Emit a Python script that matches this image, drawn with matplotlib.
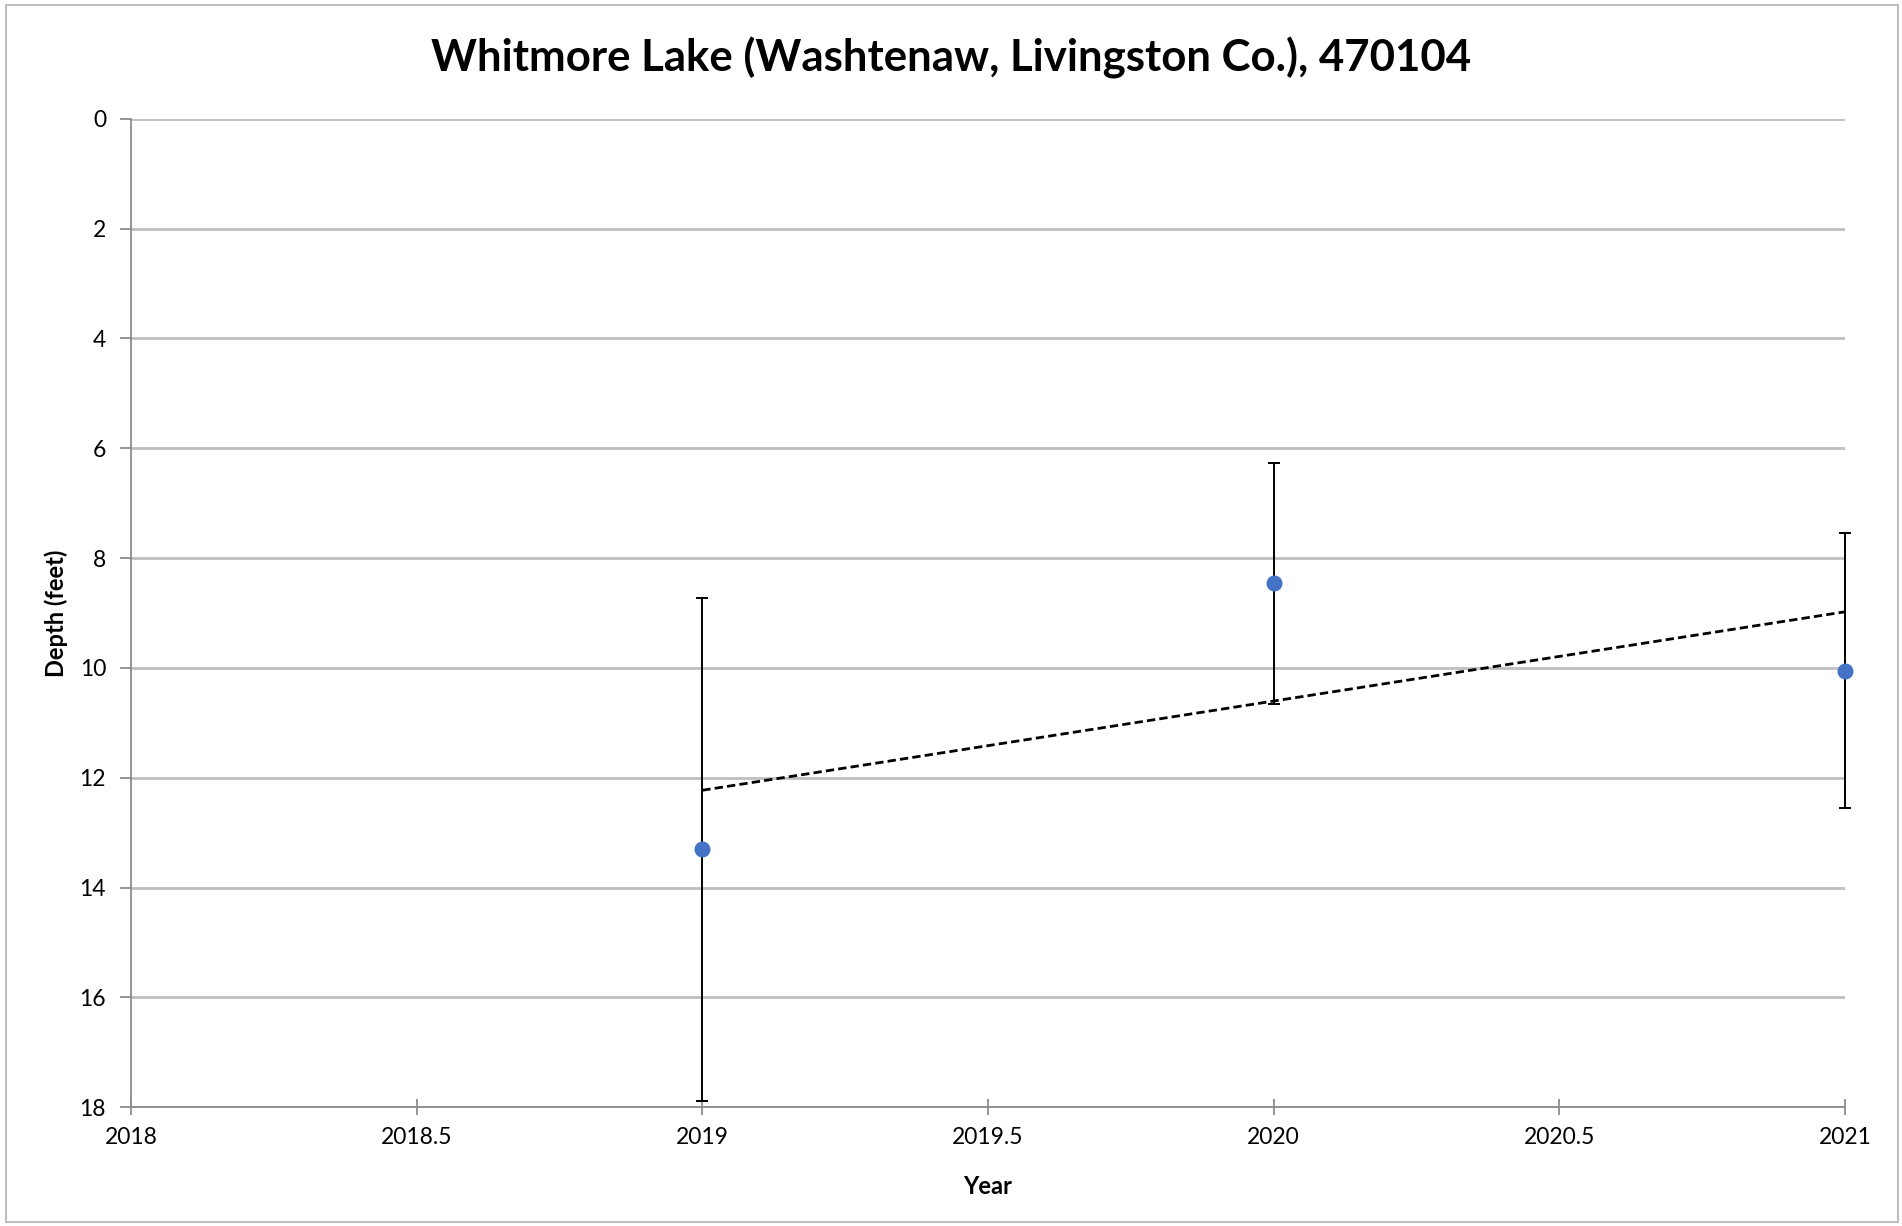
import matplotlib
matplotlib.use("Agg")
import matplotlib.pyplot as plt
import numpy as np
from matplotlib.patches import Rectangle

plt.rcParams['font.family'] = ['Lato', 'DejaVu Sans']

# data
years = [2019, 2020, 2021]
depths = [13.30, 8.46, 10.05]
errors = [4.58, 2.19, 2.50]

x_ticks = [2018, 2018.5, 2019, 2019.5, 2020, 2020.5, 2021]
x_tick_labels = ['2018', '2018.5', '2019', '2019.5', '2020', '2020.5', '2021']
y_ticks = [0, 2, 4, 6, 8, 10, 12, 14, 16, 18]

fig = plt.figure(figsize=(19.02, 12.26), dpi=100)
ax = fig.add_axes([0.0689, 0.0969, 0.9011, 0.8062])

# linear trend of the points
coef = np.polyfit(years, depths, 1)
trend_x = np.array([years[0], years[-1]])
ax.plot(trend_x, np.polyval(coef, trend_x), color='black', ls=(0, (3, 1.5)), lw=2,
        zorder=3, clip_on=False)

eb = ax.errorbar(years, depths, yerr=errors, fmt='none', ecolor='black', elinewidth=1.4,
                 capsize=4.5, capthick=1.4, zorder=4)
for art in eb.lines[1] + eb.lines[2]:
    art.set_clip_on(False)
ax.plot(years, depths, 'o', color='#4472C4', markersize=10.5, zorder=5, clip_on=False)

ax.set_xlim(2018, 2021)
ax.set_ylim(18, 0)
ax.set_xticks(x_ticks)
ax.set_xticklabels(x_tick_labels)
ax.set_yticks(y_ticks)
ax.yaxis.grid(True, color='#BFBFBF', lw=2)
ax.set_axisbelow(True)

for s in ['top', 'right']:
    ax.spines[s].set_visible(False)
for s in ['left', 'bottom']:
    ax.spines[s].set_color('#8C8C8C')
    ax.spines[s].set_linewidth(1.3)
ax.tick_params(axis='x', direction='inout', length=12, width=1.3, color='#8C8C8C',
               labelsize=16.5, pad=8)
ax.tick_params(axis='y', direction='out', length=8, width=1.3, color='#8C8C8C',
               labelsize=16.5, pad=10)

ax.set_xlabel('Year', fontsize=17, fontweight='bold', labelpad=20)
ax.set_ylabel('Depth (feet)', fontsize=17, fontweight='bold', labelpad=8)

fig.text(0.5, 0.953, 'Whitmore Lake (Washtenaw, Livingston Co.), 470104',
         ha='center', va='center', fontsize=31.5, fontweight='bold')

fig.patches.append(Rectangle((0.003, 0.003), 0.995, 0.993, transform=fig.transFigure,
                             fill=False, edgecolor='#BFBFBF', lw=1.5))

fig.savefig('out.png', dpi=100)
